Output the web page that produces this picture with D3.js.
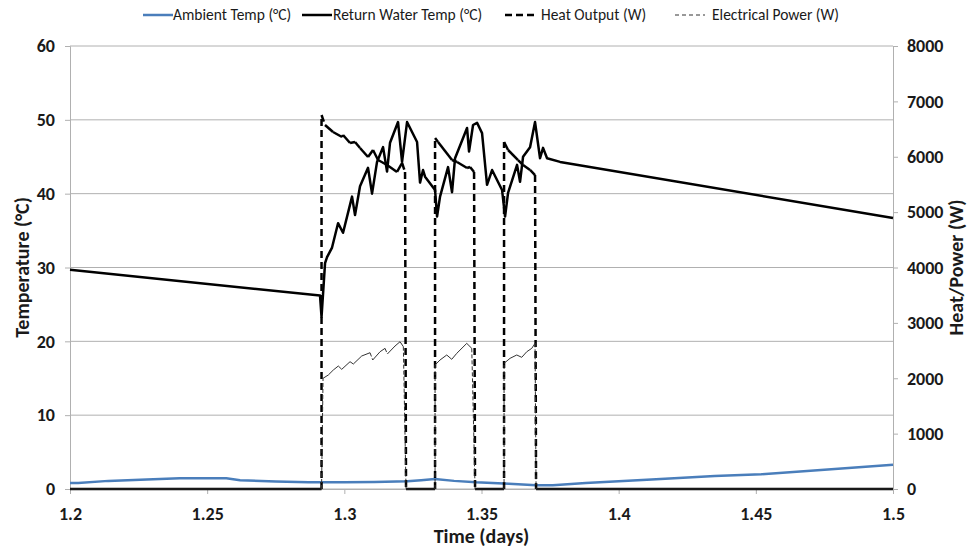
<!DOCTYPE html>
<html><head><meta charset="utf-8">
<script src="https://cdn.jsdelivr.net/npm/d3@7"></script>
<style>
body{margin:0;background:#fff;}
text{font-family:Carlito,Calibri,"Open Sans",sans-serif;}
</style></head>
<body><svg id="c" width="967" height="551"></svg>
<script>
// ---- data ----
const xTicks = [1.2, 1.25, 1.3, 1.35, 1.4, 1.45, 1.5];
const tempTicks = [0, 10, 20, 30, 40, 50, 60];
const powerTicks = [0, 1000, 2000, 3000, 4000, 5000, 6000, 7000, 8000];
const seriesNames = ["Ambient Temp (°C)", "Return Water Temp (°C)", "Heat Output (W)", "Electrical Power (W)"];

const ambientT = [1.2, 1.203, 1.214, 1.228, 1.24, 1.257, 1.262, 1.275, 1.287, 1.3, 1.311, 1.323, 1.328, 1.333, 1.34, 1.348, 1.36, 1.37, 1.376, 1.388, 1.412, 1.435, 1.452, 1.475, 1.5];
const ambientV = [0.8, 0.8, 1.1, 1.3, 1.45, 1.45, 1.2, 1.0, 0.9, 0.9, 0.95, 1.05, 1.2, 1.35, 1.1, 0.9, 0.7, 0.5, 0.5, 0.8, 1.3, 1.75, 2.0, 2.6, 3.3];

const returnT = [1.2, 1.29114, 1.29169, 1.29297, 1.2937, 1.29552, 1.29771, 1.29953, 1.30281, 1.3039, 1.30572, 1.30864, 1.3101, 1.31192, 1.31411, 1.31557, 1.31666, 1.31958, 1.32104, 1.32286, 1.32651, 1.3276, 1.32869, 1.32942, 1.33307, 1.3338, 1.33489, 1.33781, 1.33926, 1.34036, 1.34473, 1.34546, 1.34692, 1.34838, 1.3502, 1.35202, 1.35385, 1.35749, 1.35859, 1.35968, 1.36296, 1.36405, 1.36515, 1.3677, 1.36952, 1.37134, 1.37244, 1.3739, 1.37864, 1.5];
const returnV = [29.7, 26.2, 23.3, 30.6, 31.4, 32.7, 36.0, 34.7, 39.6, 37.1, 41.0, 43.5, 40.0, 44.3, 46.3, 43.0, 46.9, 49.7, 44.3, 49.7, 47.0, 41.5, 43.2, 42.3, 40.5, 36.9, 39.6, 43.6, 40.2, 44.8, 48.9, 45.7, 49.3, 49.6, 48.2, 41.2, 43.2, 40.5, 36.9, 40.1, 43.9, 41.6, 45.0, 46.3, 49.7, 44.8, 46.2, 44.8, 44.3, 36.7];

const heatT = [1.2, 1.29169, 1.29169, 1.29296, 1.29588, 1.29916, 1.29953, 1.30208, 1.3039, 1.30572, 1.30864, 1.31046, 1.31229, 1.31557, 1.31921, 1.32104, 1.32213, 1.32249, 1.33307, 1.33307, 1.33416, 1.33926, 1.34109, 1.34473, 1.34583, 1.34729, 1.34765, 1.35822, 1.35822, 1.35968, 1.36332, 1.36515, 1.3677, 1.36952, 1.36989, 1.5];
const heatV = [0, 0, 6754, 6573, 6447, 6357, 6393, 6248, 6266, 6158, 5995, 6122, 5941, 5851, 5725, 5887, 5725, 0, 0, 6339, 6266, 5941, 5905, 5796, 5814, 5725, 0, 0, 6266, 6122, 5941, 5851, 5761, 5670, 0, 0];

const elecT = [1.2, 1.29169, 1.29224, 1.29417, 1.29599, 1.29781, 1.29905, 1.30208, 1.30328, 1.30634, 1.30937, 1.31035, 1.31302, 1.31484, 1.31568, 1.31848, 1.32031, 1.32151, 1.32249, 1.33307, 1.33307, 1.33489, 1.33733, 1.33915, 1.34098, 1.34462, 1.34645, 1.34765, 1.35822, 1.35822, 1.36041, 1.36285, 1.36467, 1.3665, 1.36832, 1.36952, 1.36989, 1.5];
const elecV = [0, 0, 1999, 2059, 2149, 2221, 2161, 2299, 2257, 2402, 2461, 2330, 2479, 2540, 2438, 2582, 2660, 2570, 0, 0, 2239, 2330, 2420, 2342, 2450, 2630, 2540, 0, 0, 2270, 2360, 2420, 2378, 2479, 2540, 2631, 0, 0];

// ---- chart ----
const svg = d3.select("#c");
const L = 70, R = 893, T = 46, B = 489;
const x = d3.scaleLinear().domain([1.2, 1.5]).range([L, R]);
const yL = d3.scaleLinear().domain([0, 60]).range([B, T]);
const yR = d3.scaleLinear().domain([0, 8000]).range([B, T]);
const grid = "#b0b0b0";
const ink = "#1a1a1a";

// gridlines
svg.append("g").selectAll("line").data(tempTicks).join("line")
  .attr("x1", L).attr("x2", R).attr("y1", d => yL(d)).attr("y2", d => yL(d))
  .attr("stroke", grid).attr("stroke-width", 1);

// axes
const axL = svg.append("g").attr("transform", `translate(${L},0)`)
  .call(d3.axisLeft(yL).tickValues(tempTicks).tickSize(5).tickPadding(10));
const axR = svg.append("g").attr("transform", `translate(${R},0)`)
  .call(d3.axisRight(yR).tickValues(powerTicks).tickFormat(d3.format("d")).tickSize(5).tickPadding(9));
const axB = svg.append("g").attr("transform", `translate(0,${B})`)
  .call(d3.axisBottom(x).tickValues(xTicks).tickFormat(d3.format("")).tickSize(5).tickPadding(13));
[axL, axR, axB].forEach(g => {
  g.selectAll("path.domain").attr("stroke", grid);
  g.selectAll(".tick line").attr("stroke", grid);
  g.selectAll("text").attr("font-size", 18).attr("font-weight", "bold").attr("fill", ink)
    .style("font-family", "Carlito,Calibri,'Open Sans',sans-serif");
});

// axis titles
svg.append("text").attr("transform", `translate(29,${(T + B) / 2}) rotate(-90)`)
  .attr("text-anchor", "middle").attr("font-size", 20).attr("font-weight", "bold").attr("fill", ink)
  .text("Temperature (°C)");
svg.append("text").attr("transform", `translate(963,${(T + B) / 2}) rotate(-90)`)
  .attr("text-anchor", "middle").attr("font-size", 20).attr("font-weight", "bold").attr("fill", ink)
  .text("Heat/Power (W)");
svg.append("text").attr("x", (L + R) / 2).attr("y", 543)
  .attr("text-anchor", "middle").attr("font-size", 20).attr("font-weight", "bold").attr("fill", ink)
  .text("Time (days)");

const zip = (a, b) => a.map((t, i) => [t, b[i]]);

// ambient
svg.append("path").datum(zip(ambientT, ambientV))
  .attr("fill", "none").attr("stroke", "#4a7ebb").attr("stroke-width", 2.5)
  .attr("d", d3.line().x(d => x(d[0])).y(d => yL(d[1])));

// segment-wise dashed drawing (dash restarts on every segment, as in the source)
function segs(data, ys, width, dash, color) {
  const pts = data.map(d => [x(d[0]), ys(d[1])]);
  const pairs = d3.pairs(pts);
  svg.append("g").selectAll("line").data(pairs).join("line")
    .attr("x1", d => d[0][0]).attr("y1", d => d[0][1])
    .attr("x2", d => d[1][0]).attr("y2", d => d[1][1])
    .attr("stroke", color).attr("stroke-width", width)
    .attr("stroke-dasharray", d => {
      const dx = Math.abs(d[1][0] - d[0][0]), dy = Math.abs(d[1][1] - d[0][1]);
      return dy > dx * 2 ? dash : null;
    });
}
segs(zip(heatT, heatV), yR, 2.5, "7,4", "#000");
segs(zip(elecT, elecV), yR, 1, "4,2", "#333");

// return water
svg.append("path").datum(zip(returnT, returnV))
  .attr("fill", "none").attr("stroke", "#000").attr("stroke-width", 2.5).attr("stroke-linejoin", "round")
  .attr("d", d3.line().x(d => x(d[0])).y(d => yL(d[1])));

// legend
const legend = [
  {x: 143, tx: 173, color: "#4a7ebb", w: 2.5, dash: null},
  {x: 302, tx: 333, color: "#000", w: 2.5, dash: null},
  {x: 505, tx: 541, color: "#000", w: 2.5, dash: "7,4"},
  {x: 675, tx: 712, color: "#333", w: 1, dash: "4,3"}
];
const lg = svg.append("g");
legend.forEach((l, i) => {
  lg.append("line").attr("x1", l.x).attr("x2", l.x + 30).attr("y1", 15).attr("y2", 15)
    .attr("stroke", l.color).attr("stroke-width", l.w).attr("stroke-dasharray", l.dash);
  lg.append("text").attr("x", l.tx).attr("y", 20).attr("font-size", 15.5).attr("fill", ink)
    .text(seriesNames[i]);
});
</script></body></html>
